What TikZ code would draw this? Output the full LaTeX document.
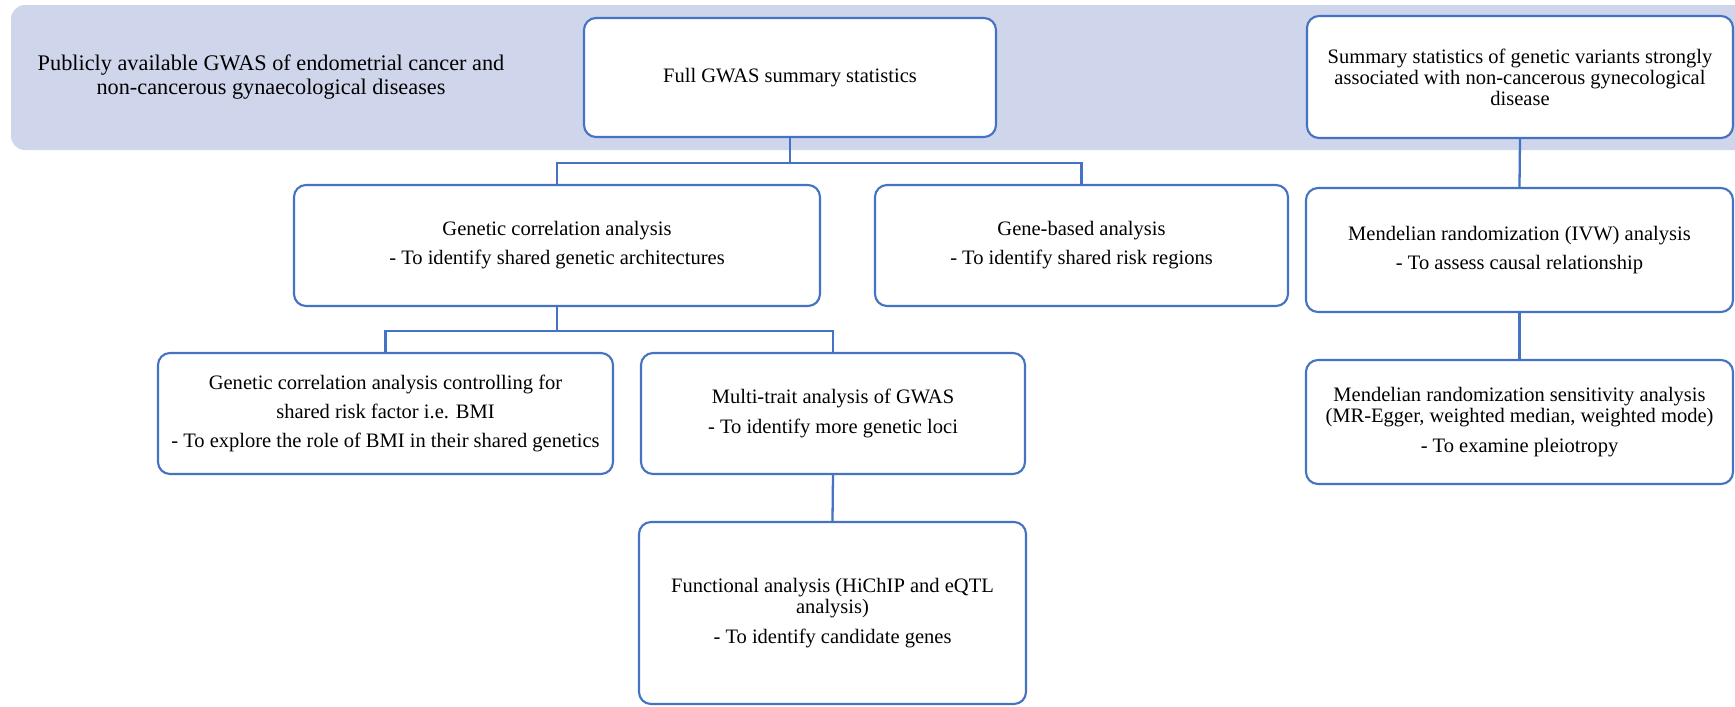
\documentclass[tikz,border=0pt]{standalone}
\usepackage{fontspec}
\setmainfont{Liberation Serif}
\definecolor{boxblue}{RGB}{68,114,196}
\definecolor{bandfill}{RGB}{207,213,234}
\begin{document}
\begin{tikzpicture}[x=0.1mm,y=-0.1mm,
  box/.style={draw=boxblue, line width=0.6pt, rounded corners=1.2mm, fill=white,
    align=center, inner sep=0pt, font=\fontsize{5.84}{6.0}\selectfont},
  link/.style={draw=boxblue, line width=0.65pt}]
  \useasboundingbox (0,0) rectangle (1735,706);
  % shaded band behind the data sources
  \fill[bandfill, rounded corners=1.4mm] (1735,5) -| (11,150) -- (1735,150);
  \node[align=center, font=\fontsize{6.34}{6.8}\selectfont] (src) at (271,77)
    {Publicly available GWAS of endometrial cancer and\\non-cancerous gynaecological diseases};
  % boxes
  \node[box, minimum width=41.2mm, minimum height=11.9mm] (full) at (790,77.5)
    {Full GWAS summary statistics};
  \node[box, minimum width=52.6mm, minimum height=12.1mm] (gca) at (557,245.5)
    {Genetic correlation analysis\\[2.3pt]- To identify shared genetic architectures};
  \node[box, minimum width=41.3mm, minimum height=12.1mm] (gene) at (1081.5,245.5)
    {Gene-based analysis\\[2.3pt]- To identify shared risk regions};
  \node[box, minimum width=45.5mm, minimum height=12.1mm] (bmi) at (385.5,413.5)
    {Genetic correlation analysis controlling for\\[2.3pt]shared risk factor i.e. BMI\\[2.3pt]- To explore the role of BMI in their shared genetics};
  \node[box, minimum width=38.4mm, minimum height=12.1mm] (mtag) at (833,413.5)
    {Multi-trait analysis of GWAS\\[2.3pt]- To identify more genetic loci};
  \node[box, minimum width=38.7mm, minimum height=18.2mm] (func) at (832.5,613)
    {Functional analysis (HiChIP and eQTL\\analysis)\\[2.3pt]- To identify candidate genes};
  \node[box, minimum width=42.6mm, minimum height=12.2mm] (summ) at (1520,77)
    {Summary statistics of genetic variants strongly\\associated with non-cancerous gynecological\\disease};
  \node[box, minimum width=42.7mm, minimum height=12.4mm] (ivw) at (1519.5,250)
    {Mendelian randomization (IVW) analysis\\[2.3pt]- To assess causal relationship};
  \node[box, minimum width=42.7mm, minimum height=12.4mm] (sens) at (1519.5,422)
    {Mendelian randomization sensitivity analysis\\(MR-Egger, weighted median, weighted mode)\\[2.3pt]- To examine pleiotropy};
  % connectors
  \draw[link] (full.south) -- ++(0,25) coordinate (j1);
  \draw[link] (gca.north) |- (j1) -| (gene.north);
  \draw[link] (gca.south) -- ++(0,24) coordinate (j2);
  \draw[link] (bmi.north) |- (j2) -| (mtag.north);
  \draw[link] (mtag.south) -- (func.north);
  \draw[link] (summ.south) -- (ivw.north);
  \draw[link] (ivw.south) -- (sens.north);
\end{tikzpicture}
\end{document}
